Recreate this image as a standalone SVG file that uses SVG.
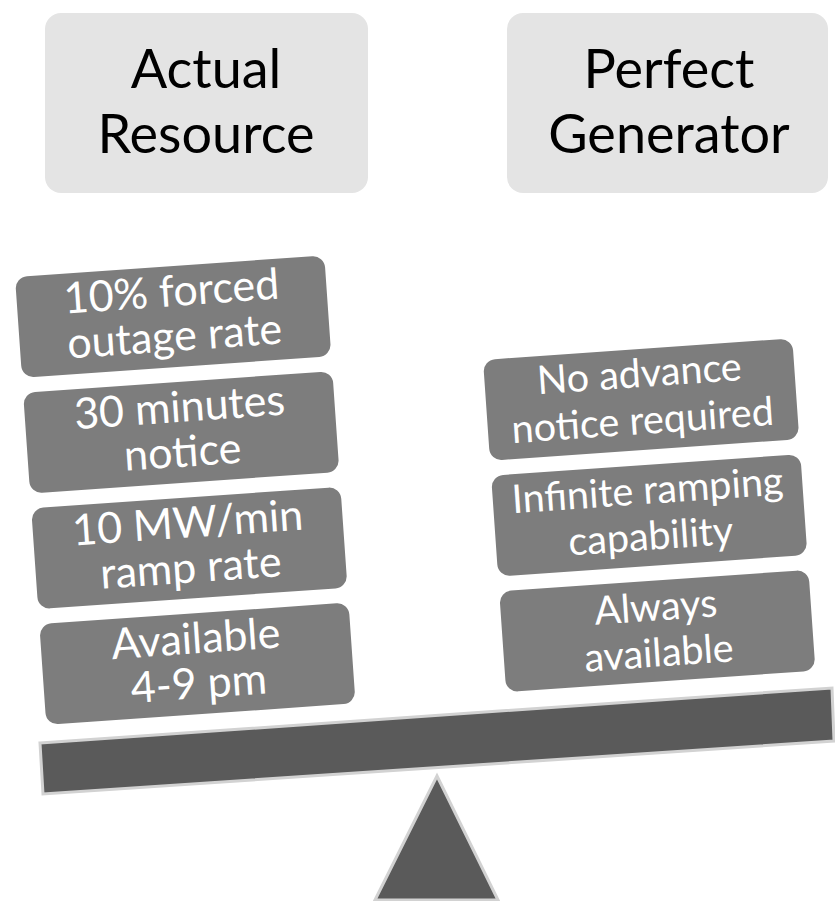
<svg xmlns="http://www.w3.org/2000/svg" width="835" height="901" viewBox="0 0 835 901">
  <style>
    .head rect { fill: #e4e4e4; }
    .head text { font-family: Lato, "Open Sans", sans-serif; font-size: 54px; fill: #000; text-anchor: middle; }
    .item rect { fill: #7d7d7d; }
    .item text { font-family: Lato, "Open Sans", sans-serif; font-size: 43px; fill: #fff; text-anchor: middle; }
    .item.r text { font-size: 39.5px; }
    .base { fill: #5a5a5a; stroke: #d2d2d2; stroke-width: 3; stroke-linejoin: miter; }
  </style>
  <rect width="835" height="901" fill="#fff"/>

  <g id="actual-resource" class="head">
    <rect x="45" y="13" width="323" height="180" rx="16"/>
    <text x="206" y="88">Actual</text>
    <text x="206" y="153">Resource</text>
  </g>
  <g id="perfect-generator" class="head">
    <rect x="507" y="13" width="321" height="180" rx="16"/>
    <text x="669" y="88">Perfect</text>
    <text x="669" y="153">Generator</text>
  </g>

  <g id="left-stack" transform="translate(15,277) rotate(-4)">
    <g id="forced-outage" class="item">
      <rect x="0" y="0" width="310" height="101" rx="12"/>
      <text x="155" y="40">10% forced</text>
      <text x="155" y="85">outage rate</text>
    </g>
    <g id="notice-30" class="item" transform="translate(0,116)">
      <rect x="0" y="0" width="310" height="101" rx="12"/>
      <text x="155" y="40">30 minutes</text>
      <text x="155" y="85">notice</text>
    </g>
    <g id="ramp-rate" class="item" transform="translate(0,232)">
      <rect x="0" y="0" width="310" height="101" rx="12"/>
      <text x="155" y="40">10 MW/min</text>
      <text x="155" y="85">ramp rate</text>
    </g>
    <g id="available-4-9" class="item" transform="translate(0,348)">
      <rect x="0" y="0" width="310" height="101" rx="12"/>
      <text x="155" y="40">Available</text>
      <text x="155" y="85">4-9 pm</text>
    </g>
  </g>

  <g id="right-stack" transform="translate(483,360) rotate(-4)">
    <g id="no-notice" class="item r">
      <rect x="0" y="0" width="310" height="101" rx="12"/>
      <text x="155" y="38">No advance</text>
      <text x="155" y="85">notice required</text>
    </g>
    <g id="infinite-ramping" class="item r" transform="translate(0,116)">
      <rect x="0" y="0" width="310" height="101" rx="12"/>
      <text x="155" y="39">Infinite ramping</text>
      <text x="155" y="85">capability</text>
    </g>
    <g id="always-available" class="item r" transform="translate(0,232)">
      <rect x="0" y="0" width="310" height="101" rx="12"/>
      <text x="155" y="40">Always</text>
      <text x="155" y="86">available</text>
    </g>
  </g>

  <g id="scale">
    <polygon id="beam" class="base" points="40,743 832,688 834,741 43,794"/>
    <polygon id="fulcrum" class="base" points="437,776 375,900 498,900"/>
  </g>
</svg>
